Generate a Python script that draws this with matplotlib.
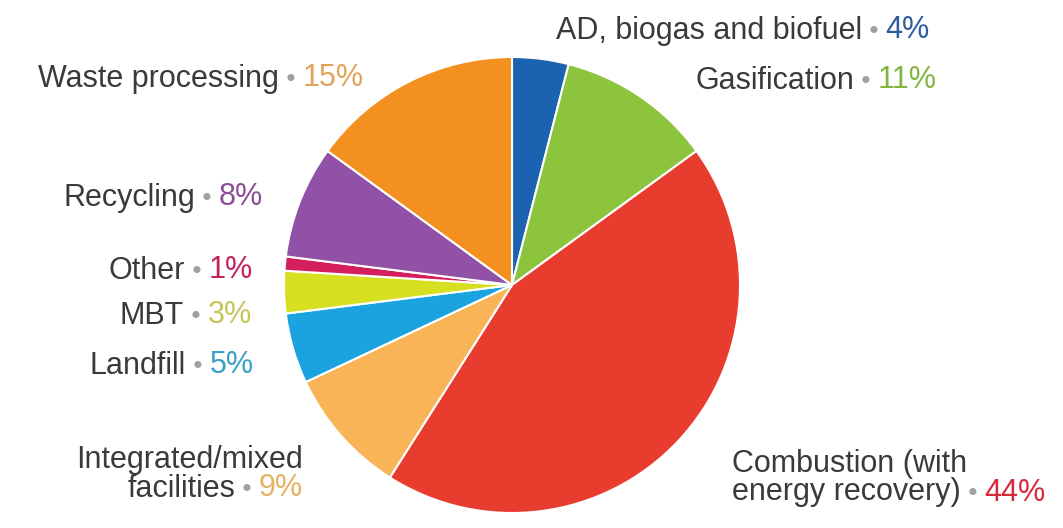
import matplotlib
matplotlib.use("Agg")
import matplotlib.pyplot as plt

plt.rcParams["font.family"] = ["Liberation Sans", "DejaVu Sans"]

W, H = 1063, 528

# wedges, clockwise from 12 o'clock
labels = ["AD, biogas and biofuel", "Gasification", "Combustion (with\nenergy recovery)",
          "Integrated/mixed\nfacilities", "Landfill", "MBT", "Other", "Recycling",
          "Waste processing"]
shares = [4, 11, 44, 9, 5, 3, 1, 8, 15]
wedge_colors = ["#1b62b0", "#8cc43e", "#e83c2e", "#f8b457", "#1ba3e0",
                "#d6df20", "#d41e5e", "#9151a6", "#f39020"]
pct_colors = ["#2e5c9e", "#82b440", "#d6283a", "#e4b062", "#3aa0c8",
              "#c5c55a", "#c42060", "#8a4f96", "#e2a25a"]

# label anchor: (x px, y px from top, alignment)
anchors = [(930, 30, "right"), (937, 80, "right"), (732, 478, "left"),
           (303, 474, "right"), (254, 365, "right"), (252, 315, "right"),
           (253, 270, "right"), (263, 197, "right"), (364, 78, "right")]

TEXT = "#3a3a3a"
DOT = "#a0a0a0"
FS = 22
DOT_FS = 19
LINE = 28

fig = plt.figure(figsize=(W / 100, H / 100), dpi=100)
ax = fig.add_axes([0, 0, 1, 1])
ax.pie(shares, colors=wedge_colors, startangle=90, counterclock=False,
       center=(512, H - 285), radius=228,
       wedgeprops=dict(edgecolor="white", linewidth=1.5))
ax.set_xlim(0, W)
ax.set_ylim(0, H)
ax.set_aspect("auto")
ax.axis("off")


def put_label(text, share, color, x, y, align):
    lines = text.split("\n")
    last = lines[-1]
    y_last = H - y - (len(lines) - 1) * LINE / 2
    if align == "right":
        pct = ax.text(x, y_last, f"{share}%", color=color, fontsize=FS,
                      ha="right", va="center")
        dot = ax.annotate(" \u2022 ", xy=(0, 0.47), xycoords=pct, color=DOT,
                          fontsize=DOT_FS, ha="right", va="center")
        ax.annotate(last, xy=(0, 0.5), xycoords=dot, color=TEXT, fontsize=FS,
                    ha="right", va="center")
    else:
        first = ax.text(x, y_last, last, color=TEXT, fontsize=FS,
                        ha="left", va="center")
        dot = ax.annotate(" \u2022 ", xy=(1, 0.47), xycoords=first, color=DOT,
                          fontsize=DOT_FS, ha="left", va="center")
        ax.annotate(f"{share}%", xy=(1, 0.5), xycoords=dot, color=color,
                    fontsize=FS, ha="left", va="center")
    for i, line in enumerate(lines[:-1]):
        yy = y_last + (len(lines) - 1 - i) * LINE
        ax.text(x, yy, line, color=TEXT, fontsize=FS, ha=align, va="center")


for lab, s, c, (x, y, al) in zip(labels, shares, pct_colors, anchors):
    put_label(lab, s, c, x, y, al)

fig.savefig("out.png", dpi=100, facecolor="white")
